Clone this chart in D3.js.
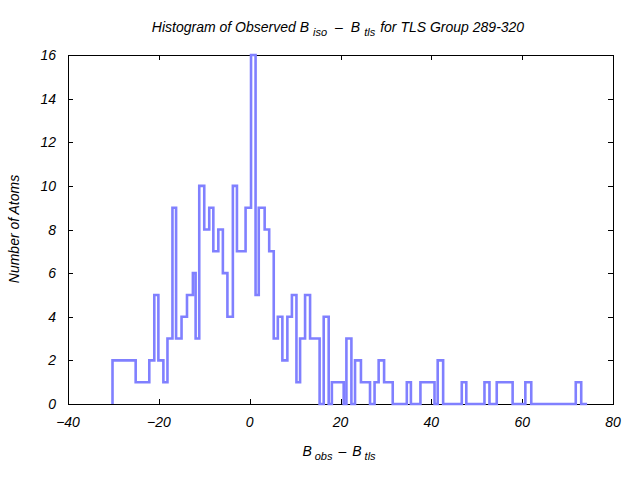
<!DOCTYPE html>
<html>
<head>
<meta charset="utf-8">
<script src="https://cdn.jsdelivr.net/npm/d3@7"></script>
<style>
  html, body { margin: 0; padding: 0; background: #fff; }
  svg { display: block; }
  text { font-family: "Liberation Sans", Arial, sans-serif; font-style: italic; fill: #000; }
</style>
</head>
<body>
<svg id="chart" width="640" height="480"></svg>
<script>
// Step-histogram bin edges (B_obs - B_tls) and atom counts per bin
const binEdges = [-30.2, -25.1, -22.1, -21.0, -20.1, -19.0, -18.1, -17.0, -16.2, -15.0,
  -13.8, -12.5, -11.9, -11.1, -10.0, -8.9, -8.0, -6.9, -5.9, -4.9,
  -3.7, -2.8, -0.9, 0.3, 1.3, 2.0, 3.3, 4.3, 5.3, 6.2,
  7.2, 8.3, 9.3, 10.3, 11.1, 12.2, 13.3, 15.4, 16.3, 17.4,
  18.1, 20.7, 21.3, 22.4, 23.2, 24.5, 26.5, 27.5, 28.4, 29.6,
  31.5, 34.6, 35.5, 37.6, 40.7, 41.4, 42.6, 46.7, 47.7, 51.7,
  52.8, 54.4, 57.9, 60.7, 62.0, 71.8, 73.0, 74.3];
const counts = [2, 1, 2, 5, 2, 1, 3, 9, 3, 4,
  5, 6, 3, 10, 8, 9, 7, 8, 6, 4,
  10, 7, 9, 16, 5, 9, 8, 7, 3, 4,
  2, 4, 5, 1, 3, 5, 3, 0, 4, 0,
  1, 0, 3, 0, 2, 1, 0, 1, 2, 1,
  0, 1, 0, 1, 0, 2, 0, 1, 0, 1,
  0, 1, 0, 1, 0, 1, 0];
const xTicks = [-40, -20, 0, 20, 40, 60, 80];
const yTicks = [0, 2, 4, 6, 8, 10, 12, 14, 16];

const svg = d3.select("#chart");
const pLeft = 68, pRight = 613, pTop = 55, pBottom = 404;
const x = d3.scaleLinear().domain([-40, 80]).range([pLeft, pRight]);
const y = d3.scaleLinear().domain([0, 16]).range([pBottom, pTop]);
const tickLen = 5;

// step outline points
const pts = [[binEdges[0], 0]];
counts.forEach((c, i) => { pts.push([binEdges[i], c]); pts.push([binEdges[i + 1], c]); });
pts.push([binEdges[binEdges.length - 1], 0]);

// frame
svg.append("rect").attr("x", pLeft + 0.5).attr("y", pTop + 0.5)
  .attr("width", pRight - pLeft).attr("height", pBottom - pTop)
  .attr("fill", "none").attr("stroke", "#000").attr("stroke-width", 1);

// ticks (inward, mirrored)
const tg = svg.append("g").attr("stroke", "#000").attr("stroke-width", 1);
xTicks.forEach(v => {
  const px = Math.round(x(v)) + 0.5;
  tg.append("line").attr("x1", px).attr("x2", px).attr("y1", pBottom).attr("y2", pBottom - tickLen);
  tg.append("line").attr("x1", px).attr("x2", px).attr("y1", pTop).attr("y2", pTop + tickLen);
});
yTicks.forEach(v => {
  const py = Math.round(y(v)) + 0.5;
  tg.append("line").attr("x1", pLeft).attr("x2", pLeft + tickLen).attr("y1", py).attr("y2", py);
  tg.append("line").attr("x1", pRight).attr("x2", pRight - tickLen).attr("y1", py).attr("y2", py);
});

// histogram line
const line = d3.line().x(d => x(d[0])).y(d => y(d[1]));
svg.append("path").datum(pts).attr("d", line)
  .attr("fill", "none").attr("stroke", "#8080ff").attr("stroke-width", 2.6)
  .attr("stroke-linejoin", "miter");

// tick labels
const fs = 14, sfs = 11;
xTicks.forEach(v => {
  svg.append("text").attr("x", x(v)).attr("y", 427).attr("text-anchor", "middle")
    .attr("font-size", fs).text(String(v).replace("-", "\u2212"));
});
yTicks.forEach(v => {
  svg.append("text").attr("x", 56).attr("y", y(v) + 5).attr("text-anchor", "end")
    .attr("font-size", fs).text(String(v));
});

// title
const title = svg.append("text").attr("x", 338).attr("y", 32).attr("text-anchor", "middle").attr("font-size", fs);
title.append("tspan").text("Histogram of Observed B");
title.append("tspan").attr("dx", 4).attr("dy", 4).attr("font-size", sfs).text("iso");
title.append("tspan").attr("dx", 8).attr("dy", -4).text("\u2013");
title.append("tspan").attr("dx", 8).text("B");
title.append("tspan").attr("dx", 4).attr("dy", 4).attr("font-size", sfs).text("tls");
title.append("tspan").attr("dx", 5).attr("dy", -4).text("for TLS Group 289-320");

// x axis title
const xt = svg.append("text").attr("x", 339).attr("y", 456).attr("text-anchor", "middle").attr("font-size", fs);
xt.append("tspan").text("B");
xt.append("tspan").attr("dx", 3).attr("dy", 4).attr("font-size", sfs).text("obs");
xt.append("tspan").attr("dx", 6).attr("dy", -4).text("\u2013");
xt.append("tspan").attr("dx", 6).text("B");
xt.append("tspan").attr("dx", 3).attr("dy", 4).attr("font-size", sfs).text("tls");

// y axis title
svg.append("text").attr("transform", "translate(19,229) rotate(-90)")
  .attr("text-anchor", "middle").attr("font-size", fs).text("Number of Atoms");
</script>
</body>
</html>
